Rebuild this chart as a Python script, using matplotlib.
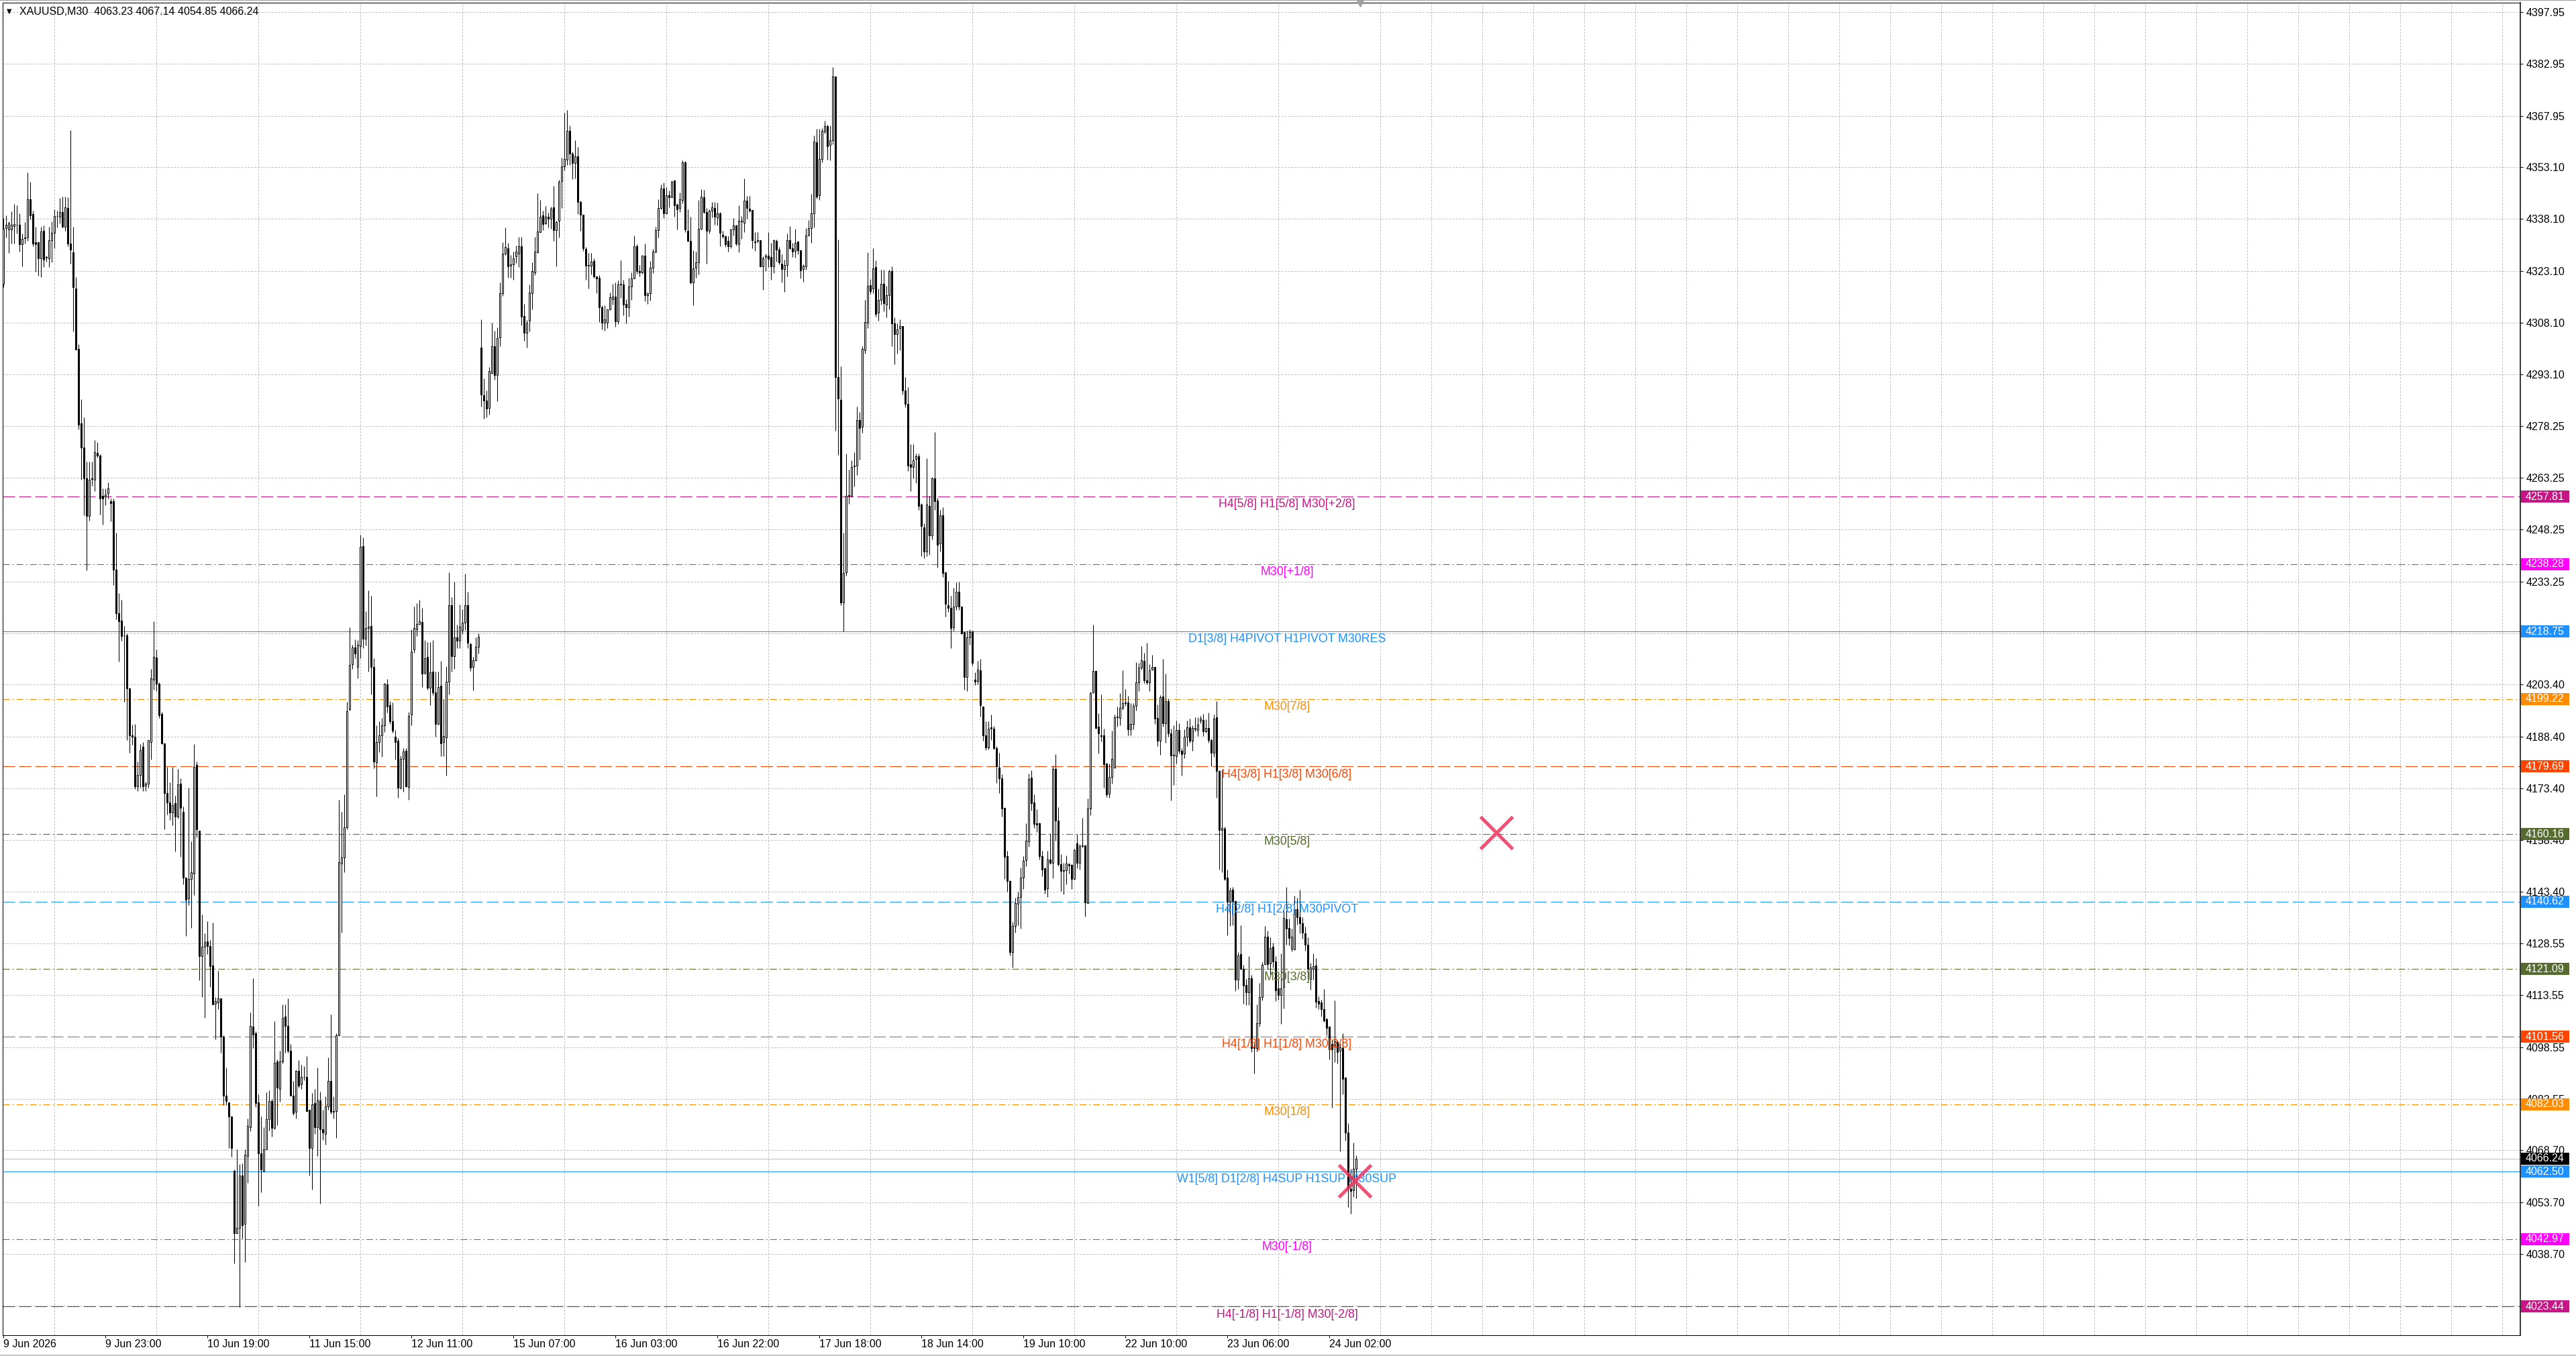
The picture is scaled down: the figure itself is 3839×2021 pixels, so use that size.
import matplotlib
matplotlib.use("Agg")
import matplotlib.pyplot as plt
from matplotlib.patches import Rectangle
from matplotlib.transforms import blended_transform_factory
import numpy as np

plt.rcParams['font.family'] = ['Liberation Sans', 'DejaVu Sans']
plt.rcParams['lines.scale_dashes'] = False

symbol = "XAUUSD,M30"

# M30 candles, oldest first
opens = [
    4319.4, 4335.4, 4335.0, 4335.0, 4336.0, 4336.4, 4336.4, 4330.7, 4332.5, 4332.7,
    4343.8, 4339.6, 4331.3, 4331.3, 4326.8, 4334.7, 4326.9, 4326.8, 4332.0, 4334.1,
    4339.0, 4338.8, 4340.1, 4335.9, 4341.3, 4331.0, 4328.5, 4318.0, 4300.6, 4278.9,
    4272.0, 4263.0, 4252.1, 4262.9, 4262.7, 4270.4, 4269.7, 4258.1, 4257.8, 4258.7,
    4256.4, 4256.4, 4236.7, 4224.0, 4221.9, 4217.6, 4217.6, 4202.3, 4188.7, 4188.3,
    4173.9, 4177.3, 4185.5, 4174.1, 4174.8, 4186.8, 4204.8, 4211.2, 4203.7, 4195.0,
    4186.4, 4172.0, 4169.3, 4166.3, 4169.1, 4165.3, 4174.8, 4166.5, 4147.6, 4141.6,
    4147.2, 4148.8, 4180.2, 4161.2, 4124.8, 4127.5, 4129.2, 4127.7, 4122.2, 4111.1,
    4111.5, 4112.7, 4101.6, 4084.5, 4082.6, 4078.5, 4062.7, 4044.6, 4046.2, 4061.4,
    4047.5, 4067.1, 4075.4, 4104.5, 4102.5, 4082.6, 4067.8, 4062.7, 4069.0, 4077.7,
    4083.0, 4075.1, 4094.4, 4086.5, 4094.4, 4107.4, 4104.7, 4097.5, 4084.5, 4079.8,
    4091.6, 4087.8, 4089.9, 4089.9, 4080.4, 4069.3, 4082.3, 4075.4, 4083.2, 4074.7,
    4073.5, 4081.3, 4088.7, 4080.1, 4080.1, 4102.0, 4151.7, 4153.3, 4162.1, 4196.3,
    4209.3, 4214.1, 4208.6, 4214.5, 4243.5, 4216.6, 4219.8, 4220.4, 4208.6, 4181.0,
    4186.7, 4188.8, 4191.7, 4203.5, 4197.4, 4192.8, 4188.3, 4187.1, 4173.5, 4182.0,
    4184.3, 4173.7, 4194.8, 4213.6, 4219.4, 4220.9, 4221.6, 4206.7, 4211.5, 4202.4,
    4207.1, 4201.2, 4192.1, 4203.0, 4186.8, 4188.2, 4204.3, 4226.3, 4211.6, 4217.1,
    4216.1, 4219.1, 4221.3, 4226.3, 4215.2, 4208.6, 4210.5, 4214.4, 4300.9, 4287.1,
    4285.5, 4283.4, 4293.5, 4301.3, 4293.0, 4303.9, 4316.7, 4328.0, 4329.7, 4324.5,
    4324.9, 4327.3, 4328.1, 4330.2, 4310.1, 4305.2, 4308.6, 4316.7, 4322.6, 4328.5,
    4334.2, 4339.2, 4336.9, 4338.7, 4338.2, 4341.4, 4334.9, 4337.5, 4349.0, 4353.3,
    4355.2, 4363.6, 4356.9, 4354.2, 4356.3, 4343.1, 4339.4, 4329.4, 4324.6, 4324.6,
    4325.9, 4321.4, 4321.0, 4312.6, 4308.1, 4308.1, 4311.9, 4314.8, 4315.7, 4308.4,
    4319.3, 4319.1, 4313.6, 4312.5, 4318.5, 4320.9, 4330.3, 4323.1, 4322.6, 4327.4,
    4316.1, 4316.6, 4324.0, 4328.7, 4334.9, 4341.2, 4346.9, 4339.8, 4345.0, 4344.4,
    4349.2, 4342.2, 4341.2, 4343.6, 4354.5, 4334.6, 4331.8, 4319.8, 4324.0, 4325.6,
    4335.3, 4344.3, 4340.1, 4334.6, 4340.4, 4341.3, 4338.6, 4339.7, 4333.6, 4333.1,
    4331.7, 4330.2, 4335.1, 4336.2, 4330.8, 4337.6, 4337.0, 4343.4, 4341.0, 4340.7,
    4331.6, 4331.7, 4332.0, 4324.3, 4327.1, 4327.4, 4327.1, 4324.3, 4331.8, 4329.2,
    4325.2, 4323.7, 4324.7, 4332.0, 4329.7, 4328.8, 4331.5, 4329.0, 4323.7, 4324.4,
    4333.4, 4335.5, 4339.8, 4360.3, 4344.9, 4355.4, 4363.4, 4365.0, 4359.5, 4360.9,
    4379.3, 4292.4, 4285.7, 4227.1, 4235.9, 4258.1, 4258.1, 4266.6, 4266.8, 4279.9,
    4277.9, 4300.2, 4308.0, 4319.0, 4318.0, 4324.1, 4310.9, 4314.7, 4319.4, 4313.3,
    4316.0, 4323.0, 4307.9, 4304.8, 4306.6, 4307.2, 4288.4, 4284.6, 4267.1, 4266.4,
    4268.7, 4269.5, 4255.4, 4248.9, 4241.9, 4255.0, 4246.6, 4263.1, 4256.7, 4244.2,
    4252.4, 4235.9, 4226.4, 4225.5, 4220.0, 4226.0, 4230.2, 4226.0, 4218.6, 4205.6,
    4217.0, 4218.8, 4204.9, 4204.5, 4207.6, 4197.1, 4188.7, 4185.3, 4191.0, 4190.7,
    4185.0, 4179.4, 4176.3, 4167.8, 4153.7, 4146.6, 4126.0, 4133.5, 4139.9, 4142.0,
    4147.6, 4152.6, 4158.1, 4176.5, 4169.3, 4163.3, 4163.3, 4153.7, 4150.2, 4144.4,
    4152.8, 4151.8, 4179.1, 4164.0, 4151.4, 4149.6, 4149.6, 4151.4, 4151.2, 4147.1,
    4157.5, 4151.9, 4156.8, 4156.8, 4140.2, 4167.6, 4201.1, 4207.4, 4191.2, 4188.7,
    4188.7, 4180.5, 4171.8, 4176.6, 4179.4, 4194.0, 4193.8, 4196.7, 4198.2, 4198.2,
    4190.4, 4192.0, 4197.2, 4204.1, 4208.3, 4210.3, 4204.7, 4204.1, 4207.8, 4208.5,
    4193.8, 4187.1, 4200.0, 4192.2, 4198.7, 4189.3, 4183.0, 4182.7, 4190.2, 4184.3,
    4183.5, 4188.3, 4191.1, 4187.2, 4190.4, 4190.2, 4193.0, 4193.2, 4189.9, 4190.9,
    4187.3, 4183.7, 4194.0, 4178.4, 4161.3, 4161.7, 4147.5, 4140.5, 4144.1, 4140.8,
    4118.0, 4125.4, 4121.1, 4116.5, 4114.4, 4118.5, 4098.2, 4098.3, 4105.4, 4113.0,
    4122.5, 4130.5, 4122.8, 4127.5, 4123.3, 4115.5, 4113.6, 4115.9, 4135.5, 4133.1,
    4127.0, 4126.8, 4138.5, 4136.2, 4134.4, 4131.5, 4128.2, 4118.3, 4121.1, 4122.2,
    4111.9, 4111.4, 4109.5, 4106.6, 4104.5, 4099.4, 4099.0, 4100.0, 4097.5, 4098.3,
    4089.8, 4073.9, 4057.5, 4057.1, 4063.23,
]
highs = [
    4338.3, 4339.1, 4337.4, 4340.3, 4342.5, 4342.0, 4339.7, 4333.9, 4337.1, 4351.5,
    4348.9, 4340.5, 4335.9, 4331.3, 4335.9, 4336.2, 4327.5, 4335.9, 4337.4, 4340.8,
    4340.5, 4344.1, 4344.5, 4344.5, 4344.3, 4363.7, 4335.9, 4321.2, 4301.8, 4285.9,
    4280.7, 4268.0, 4268.0, 4267.9, 4274.1, 4273.5, 4270.0, 4260.2, 4260.2, 4261.9,
    4257.2, 4257.2, 4247.4, 4229.8, 4228.0, 4220.3, 4218.2, 4202.5, 4191.9, 4192.1,
    4181.1, 4186.2, 4186.8, 4175.4, 4187.4, 4208.0, 4221.7, 4213.6, 4204.0, 4195.5,
    4186.4, 4179.5, 4175.2, 4179.5, 4171.2, 4179.0, 4176.3, 4168.1, 4147.6, 4173.5,
    4158.1, 4186.2, 4181.2, 4161.2, 4136.8, 4131.5, 4134.9, 4129.6, 4134.6, 4113.1,
    4120.6, 4112.7, 4102.0, 4092.7, 4082.6, 4078.5, 4063.1, 4069.0, 4064.6, 4064.9,
    4069.0, 4077.9, 4108.5, 4118.4, 4103.2, 4084.9, 4078.5, 4075.4, 4085.5, 4086.1,
    4083.6, 4106.1, 4095.0, 4097.5, 4110.8, 4110.8, 4112.7, 4099.4, 4088.7, 4091.8,
    4094.7, 4093.5, 4093.1, 4095.9, 4080.4, 4085.2, 4086.4, 4092.7, 4085.7, 4080.4,
    4084.2, 4095.6, 4107.9, 4084.2, 4102.6, 4170.1, 4166.5, 4171.6, 4198.5, 4220.0,
    4214.9, 4216.5, 4216.2, 4246.7, 4245.9, 4224.6, 4230.6, 4229.1, 4211.1, 4191.7,
    4192.8, 4193.8, 4203.8, 4205.0, 4198.7, 4198.3, 4190.2, 4188.0, 4182.8, 4185.1,
    4185.1, 4195.6, 4219.4, 4226.0, 4227.0, 4228.0, 4225.6, 4216.3, 4215.6, 4215.6,
    4216.3, 4207.1, 4207.1, 4210.2, 4199.2, 4208.7, 4235.9, 4228.6, 4233.1, 4220.7,
    4226.5, 4225.2, 4235.4, 4230.3, 4215.5, 4211.5, 4217.1, 4218.2, 4309.1, 4291.9,
    4288.5, 4295.2, 4308.0, 4305.8, 4306.8, 4319.7, 4331.3, 4335.6, 4331.1, 4327.7,
    4328.7, 4330.4, 4332.9, 4332.9, 4313.6, 4308.9, 4319.1, 4325.6, 4332.9, 4345.6,
    4343.6, 4340.4, 4341.9, 4340.0, 4341.7, 4347.6, 4337.5, 4349.5, 4355.9, 4368.8,
    4369.6, 4365.1, 4357.6, 4360.8, 4358.9, 4343.4, 4339.4, 4330.1, 4328.2, 4328.2,
    4326.8, 4321.4, 4321.9, 4313.1, 4313.2, 4311.9, 4316.8, 4319.3, 4319.7, 4320.4,
    4326.1, 4320.6, 4314.8, 4321.1, 4322.7, 4333.4, 4330.8, 4324.7, 4327.7, 4331.0,
    4316.9, 4325.9, 4329.4, 4335.8, 4343.8, 4348.1, 4348.6, 4347.2, 4346.4, 4349.3,
    4349.5, 4342.6, 4345.7, 4355.1, 4354.9, 4340.8, 4338.8, 4329.0, 4328.7, 4343.6,
    4346.7, 4346.5, 4341.2, 4340.8, 4343.1, 4343.1, 4342.9, 4340.1, 4334.6, 4333.3,
    4333.2, 4335.3, 4338.4, 4336.5, 4342.1, 4338.9, 4349.9, 4344.7, 4344.7, 4340.7,
    4334.2, 4334.2, 4332.0, 4327.3, 4328.0, 4334.2, 4331.1, 4332.2, 4332.2, 4330.1,
    4327.9, 4326.3, 4333.9, 4336.0, 4331.1, 4335.3, 4331.8, 4329.0, 4324.9, 4335.5,
    4337.7, 4345.3, 4362.3, 4364.1, 4364.2, 4364.4, 4366.6, 4365.4, 4365.2, 4382.0,
    4379.3, 4332.2, 4295.5, 4247.3, 4270.2, 4265.5, 4268.2, 4270.6, 4283.9, 4282.3,
    4301.2, 4314.7, 4328.4, 4320.7, 4329.7, 4326.1, 4318.0, 4323.4, 4323.4, 4318.7,
    4323.4, 4324.4, 4309.7, 4307.9, 4309.0, 4307.2, 4292.4, 4289.5, 4272.9, 4272.9,
    4270.2, 4270.2, 4255.8, 4250.0, 4268.9, 4258.1, 4263.5, 4276.5, 4257.4, 4254.0,
    4254.7, 4235.9, 4233.4, 4229.1, 4231.5, 4232.9, 4233.2, 4226.0, 4218.6, 4219.0,
    4219.4, 4219.0, 4206.9, 4210.3, 4210.9, 4197.1, 4192.8, 4192.8, 4194.8, 4191.4,
    4185.7, 4183.7, 4177.5, 4167.8, 4155.4, 4146.7, 4134.7, 4141.8, 4143.4, 4150.4,
    4153.7, 4163.3, 4177.7, 4178.7, 4171.6, 4167.4, 4163.4, 4155.4, 4150.5, 4155.4,
    4160.3, 4180.0, 4183.2, 4167.9, 4154.4, 4151.9, 4154.0, 4151.9, 4151.4, 4155.9,
    4160.1, 4157.2, 4164.8, 4156.9, 4170.5, 4201.4, 4220.8, 4207.6, 4195.1, 4200.6,
    4190.6, 4180.8, 4180.5, 4190.0, 4194.7, 4197.0, 4201.0, 4207.6, 4202.2, 4200.1,
    4198.1, 4198.1, 4209.9, 4209.7, 4214.6, 4212.5, 4215.5, 4209.2, 4212.0, 4208.5,
    4197.7, 4200.3, 4210.9, 4206.6, 4199.3, 4190.6, 4191.6, 4193.0, 4192.3, 4185.1,
    4190.4, 4193.0, 4193.5, 4191.6, 4194.0, 4193.9, 4194.4, 4194.9, 4193.3, 4195.4,
    4187.8, 4194.7, 4198.6, 4178.7, 4178.8, 4162.4, 4149.8, 4144.7, 4144.9, 4140.9,
    4126.1, 4133.7, 4122.3, 4118.3, 4124.9, 4119.4, 4099.6, 4110.9, 4117.1, 4123.1,
    4133.5, 4132.3, 4130.3, 4128.8, 4124.9, 4118.0, 4125.7, 4138.1, 4144.9, 4135.8,
    4132.8, 4142.4, 4141.8, 4144.0, 4136.2, 4133.3, 4130.3, 4122.9, 4125.7, 4124.3,
    4113.2, 4112.2, 4115.3, 4107.0, 4104.5, 4100.5, 4112.0, 4100.4, 4099.6, 4102.5,
    4089.8, 4076.6, 4063.4, 4070.9, 4067.14,
]
lows = [
    4318.3, 4332.7, 4328.3, 4331.0, 4331.0, 4333.9, 4328.7, 4324.3, 4331.0, 4331.8,
    4337.9, 4330.2, 4322.9, 4321.7, 4321.2, 4324.1, 4325.8, 4324.1, 4325.6, 4329.6,
    4335.6, 4336.8, 4335.6, 4334.7, 4330.2, 4325.2, 4305.5, 4300.3, 4277.2, 4262.7,
    4252.3, 4236.4, 4250.8, 4261.0, 4259.3, 4269.1, 4252.6, 4249.7, 4255.2, 4257.2,
    4250.6, 4232.1, 4222.2, 4210.1, 4216.1, 4198.5, 4187.4, 4183.6, 4186.0, 4173.1,
    4172.6, 4173.5, 4172.6, 4172.6, 4173.5, 4181.7, 4202.0, 4201.5, 4193.8, 4186.2,
    4161.5, 4165.9, 4164.3, 4162.7, 4155.2, 4164.6, 4153.6, 4145.6, 4130.7, 4139.6,
    4133.0, 4142.5, 4159.2, 4117.8, 4113.1, 4107.0, 4125.4, 4115.9, 4110.8, 4100.7,
    4109.6, 4096.9, 4081.7, 4081.7, 4069.3, 4066.8, 4035.9, 4044.6, 4023.4, 4043.1,
    4036.4, 4059.2, 4074.1, 4098.2, 4081.1, 4052.6, 4056.6, 4062.3, 4069.0, 4074.4,
    4072.6, 4074.7, 4076.0, 4082.7, 4093.7, 4096.9, 4096.9, 4084.5, 4078.8, 4077.9,
    4086.8, 4086.5, 4089.0, 4079.8, 4061.4, 4057.4, 4073.5, 4067.1, 4053.2, 4071.6,
    4070.3, 4080.4, 4079.2, 4077.9, 4072.2, 4101.8, 4131.7, 4149.1, 4161.5, 4195.8,
    4207.9, 4211.0, 4205.3, 4211.1, 4214.0, 4214.8, 4207.1, 4200.6, 4179.2, 4171.1,
    4183.9, 4182.5, 4189.7, 4195.4, 4192.0, 4189.5, 4181.7, 4170.7, 4173.1, 4172.4,
    4173.7, 4170.0, 4191.7, 4212.6, 4217.4, 4220.7, 4202.7, 4206.4, 4202.0, 4197.5,
    4200.3, 4188.3, 4191.9, 4182.6, 4182.6, 4177.1, 4200.6, 4207.2, 4207.9, 4213.9,
    4213.9, 4218.0, 4219.1, 4213.9, 4207.4, 4201.7, 4210.3, 4212.4, 4283.8, 4280.3,
    4280.8, 4281.5, 4293.3, 4291.6, 4285.3, 4301.3, 4315.9, 4327.7, 4321.1, 4321.1,
    4320.6, 4325.4, 4324.2, 4307.4, 4302.9, 4300.9, 4305.5, 4312.0, 4321.8, 4328.3,
    4334.2, 4334.9, 4336.7, 4335.6, 4335.3, 4331.8, 4324.3, 4332.7, 4341.2, 4352.1,
    4353.7, 4353.7, 4349.6, 4349.9, 4339.5, 4334.6, 4328.9, 4320.5, 4317.9, 4322.0,
    4321.1, 4316.6, 4308.2, 4306.2, 4305.8, 4306.6, 4311.8, 4313.3, 4307.0, 4307.7,
    4315.2, 4310.2, 4307.9, 4309.8, 4314.6, 4320.9, 4322.2, 4321.4, 4322.2, 4314.3,
    4313.6, 4314.5, 4322.5, 4328.3, 4332.7, 4340.8, 4338.3, 4339.6, 4341.5, 4344.3,
    4338.8, 4335.1, 4340.1, 4342.6, 4334.2, 4331.5, 4319.3, 4313.2, 4321.1, 4322.1,
    4335.0, 4339.8, 4325.2, 4333.9, 4338.6, 4336.5, 4336.3, 4330.3, 4332.5, 4330.1,
    4328.7, 4329.7, 4333.4, 4330.4, 4328.5, 4332.3, 4334.2, 4338.1, 4340.1, 4329.7,
    4328.9, 4331.1, 4324.2, 4317.6, 4323.1, 4324.2, 4320.5, 4322.5, 4325.7, 4324.9,
    4319.7, 4317.1, 4321.4, 4329.4, 4327.1, 4327.0, 4327.8, 4320.9, 4319.9, 4323.4,
    4333.4, 4331.1, 4335.6, 4344.0, 4343.6, 4354.4, 4362.8, 4355.2, 4355.1, 4359.8,
    4276.9, 4269.9, 4226.4, 4218.8, 4234.9, 4255.7, 4258.1, 4260.8, 4264.1, 4268.5,
    4276.3, 4299.2, 4306.6, 4316.4, 4316.7, 4309.9, 4308.6, 4313.3, 4311.3, 4309.7,
    4311.9, 4301.2, 4296.1, 4299.2, 4300.2, 4287.3, 4283.7, 4265.2, 4259.4, 4263.1,
    4261.7, 4254.0, 4240.6, 4239.9, 4240.6, 4241.0, 4245.3, 4254.0, 4237.2, 4241.9,
    4234.5, 4223.1, 4224.4, 4214.0, 4219.0, 4225.1, 4225.1, 4218.1, 4201.9, 4201.5,
    4215.0, 4208.9, 4203.3, 4203.5, 4194.1, 4187.1, 4184.4, 4184.7, 4187.4, 4184.6,
    4174.9, 4172.1, 4165.2, 4147.2, 4143.4, 4125.0, 4121.6, 4131.7, 4133.8, 4132.8,
    4144.3, 4150.9, 4156.5, 4167.0, 4162.0, 4160.8, 4152.8, 4147.9, 4142.9, 4142.0,
    4151.4, 4147.4, 4158.2, 4150.9, 4143.6, 4142.7, 4145.7, 4148.8, 4144.3, 4146.9,
    4150.2, 4149.8, 4156.3, 4136.4, 4140.1, 4165.6, 4201.0, 4190.7, 4183.5, 4187.0,
    4173.5, 4170.9, 4170.7, 4174.7, 4179.2, 4191.2, 4191.6, 4196.0, 4197.2, 4188.8,
    4188.8, 4190.4, 4195.8, 4201.6, 4207.8, 4203.8, 4203.4, 4201.6, 4207.5, 4192.0,
    4185.6, 4183.0, 4191.3, 4186.5, 4188.3, 4169.8, 4174.4, 4180.5, 4183.5, 4177.1,
    4182.2, 4185.7, 4186.5, 4184.3, 4189.9, 4188.5, 4192.2, 4188.5, 4189.5, 4186.6,
    4179.8, 4182.5, 4170.7, 4149.8, 4149.1, 4146.7, 4130.9, 4133.5, 4133.7, 4114.8,
    4115.3, 4121.0, 4111.0, 4110.7, 4110.6, 4097.0, 4090.8, 4097.2, 4104.4, 4112.0,
    4122.5, 4121.0, 4119.6, 4121.5, 4111.9, 4112.2, 4105.2, 4109.8, 4128.2, 4128.0,
    4126.2, 4126.6, 4134.0, 4131.5, 4129.9, 4126.5, 4118.3, 4115.2, 4118.0, 4110.0,
    4109.5, 4107.4, 4105.8, 4102.0, 4094.9, 4080.9, 4094.1, 4093.8, 4068.4, 4084.8,
    4071.5, 4052.2, 4050.4, 4055.2, 4054.85,
]
closes = [
    4335.3, 4336.4, 4336.9, 4336.4, 4336.7, 4336.4, 4330.7, 4332.3, 4332.7, 4343.8,
    4339.1, 4330.9, 4330.7, 4326.8, 4334.4, 4326.3, 4327.1, 4332.0, 4334.1, 4339.0,
    4339.0, 4340.1, 4335.9, 4341.5, 4331.0, 4329.2, 4318.3, 4300.3, 4278.6, 4272.0,
    4263.0, 4252.1, 4262.7, 4263.0, 4270.6, 4269.7, 4257.2, 4257.2, 4258.3, 4260.2,
    4255.8, 4236.7, 4224.0, 4221.7, 4217.4, 4217.6, 4202.3, 4188.7, 4188.3, 4173.9,
    4177.3, 4184.5, 4173.9, 4174.8, 4187.4, 4205.2, 4211.5, 4203.7, 4194.5, 4186.4,
    4172.0, 4169.3, 4166.3, 4168.5, 4165.3, 4174.5, 4167.8, 4147.6, 4141.2, 4147.2,
    4149.2, 4179.5, 4161.5, 4124.8, 4127.5, 4128.9, 4127.7, 4122.0, 4110.8, 4111.8,
    4112.7, 4101.6, 4084.5, 4083.0, 4078.5, 4069.3, 4044.6, 4046.2, 4061.4, 4047.1,
    4067.4, 4075.7, 4104.7, 4102.2, 4082.3, 4067.8, 4063.1, 4069.0, 4077.7, 4083.0,
    4075.1, 4094.0, 4086.8, 4094.4, 4107.0, 4104.7, 4097.5, 4084.5, 4079.4, 4091.6,
    4087.4, 4089.9, 4089.9, 4080.1, 4069.3, 4081.9, 4075.4, 4083.2, 4074.7, 4073.9,
    4081.3, 4088.7, 4079.8, 4079.8, 4102.0, 4152.0, 4153.3, 4162.1, 4195.7, 4209.0,
    4214.1, 4212.3, 4215.0, 4243.3, 4216.6, 4219.8, 4220.2, 4208.5, 4181.2, 4186.7,
    4188.8, 4191.7, 4203.7, 4197.0, 4192.8, 4190.1, 4186.8, 4173.5, 4182.0, 4184.1,
    4174.0, 4194.3, 4213.0, 4219.7, 4221.0, 4221.8, 4206.6, 4211.1, 4202.4, 4206.9,
    4201.1, 4192.1, 4202.7, 4186.4, 4188.6, 4204.2, 4226.3, 4211.6, 4217.1, 4216.1,
    4220.2, 4221.3, 4226.3, 4215.5, 4208.4, 4210.5, 4214.3, 4217.2, 4287.4, 4285.5,
    4283.3, 4294.2, 4301.2, 4293.0, 4303.7, 4316.7, 4328.0, 4330.1, 4324.3, 4324.9,
    4326.8, 4328.6, 4330.2, 4309.8, 4305.2, 4308.0, 4316.9, 4323.1, 4328.6, 4334.4,
    4338.8, 4336.7, 4338.7, 4338.1, 4341.0, 4334.9, 4337.2, 4348.8, 4353.3, 4355.4,
    4363.6, 4356.9, 4354.2, 4356.3, 4343.1, 4339.4, 4329.6, 4324.6, 4324.7, 4325.8,
    4321.4, 4320.9, 4312.6, 4308.1, 4309.0, 4311.9, 4315.4, 4315.7, 4308.4, 4319.1,
    4319.2, 4313.4, 4312.5, 4318.5, 4320.9, 4330.3, 4323.1, 4322.6, 4327.4, 4316.1,
    4316.6, 4324.0, 4328.7, 4334.9, 4341.2, 4346.9, 4339.8, 4345.0, 4344.3, 4348.8,
    4342.0, 4340.8, 4343.8, 4354.5, 4335.1, 4331.8, 4319.8, 4323.8, 4325.6, 4335.3,
    4344.6, 4340.1, 4334.6, 4340.4, 4341.5, 4338.8, 4339.7, 4334.0, 4333.1, 4330.8,
    4330.2, 4335.1, 4336.2, 4330.9, 4337.6, 4337.4, 4343.4, 4341.2, 4340.5, 4332.0,
    4331.3, 4332.0, 4324.3, 4326.8, 4327.4, 4326.6, 4324.3, 4332.0, 4329.2, 4325.6,
    4323.7, 4324.7, 4332.0, 4329.7, 4328.7, 4331.1, 4329.0, 4323.3, 4324.5, 4333.4,
    4335.5, 4339.8, 4360.4, 4344.5, 4355.4, 4363.6, 4365.0, 4359.2, 4360.9, 4379.3,
    4292.4, 4286.1, 4227.1, 4235.6, 4258.1, 4258.2, 4266.4, 4266.8, 4279.9, 4277.6,
    4300.5, 4308.3, 4318.7, 4317.3, 4323.8, 4310.6, 4314.7, 4319.4, 4313.7, 4316.0,
    4323.0, 4307.9, 4304.8, 4306.2, 4307.2, 4288.4, 4284.6, 4266.8, 4266.4, 4268.2,
    4269.5, 4255.1, 4249.3, 4241.9, 4255.4, 4246.6, 4263.1, 4256.5, 4243.9, 4252.3,
    4235.6, 4226.7, 4225.5, 4219.7, 4226.0, 4230.2, 4226.0, 4218.3, 4205.6, 4217.0,
    4218.6, 4209.6, 4204.2, 4207.8, 4197.5, 4188.7, 4185.3, 4190.7, 4190.6, 4185.0,
    4179.8, 4176.3, 4167.6, 4153.5, 4146.6, 4126.0, 4133.5, 4140.1, 4142.0, 4147.6,
    4152.4, 4158.2, 4176.1, 4169.1, 4163.1, 4162.9, 4153.7, 4149.8, 4144.1, 4152.8,
    4151.8, 4179.1, 4164.0, 4151.4, 4149.5, 4149.5, 4151.6, 4151.1, 4147.1, 4155.6,
    4151.9, 4156.7, 4156.6, 4140.4, 4167.5, 4201.0, 4207.4, 4190.9, 4189.3, 4188.5,
    4180.3, 4171.6, 4176.6, 4181.9, 4194.0, 4194.2, 4196.7, 4198.0, 4198.0, 4190.4,
    4192.0, 4197.2, 4204.1, 4208.3, 4210.4, 4204.6, 4204.1, 4207.6, 4208.5, 4193.5,
    4187.2, 4199.8, 4192.2, 4198.6, 4189.3, 4182.9, 4182.9, 4190.2, 4184.2, 4183.3,
    4188.3, 4191.1, 4187.2, 4190.8, 4190.9, 4191.8, 4193.5, 4189.9, 4190.9, 4187.3,
    4183.7, 4193.5, 4178.4, 4161.3, 4161.9, 4147.1, 4140.5, 4143.8, 4140.8, 4118.0,
    4125.0, 4121.1, 4116.3, 4114.4, 4118.5, 4098.2, 4098.4, 4105.4, 4113.0, 4122.4,
    4130.5, 4122.6, 4127.2, 4123.3, 4115.0, 4113.6, 4115.5, 4136.0, 4132.8, 4130.1,
    4130.5, 4138.5, 4136.2, 4134.4, 4131.7, 4128.2, 4121.1, 4121.5, 4121.9, 4111.6,
    4111.0, 4109.5, 4106.2, 4104.0, 4097.9, 4097.9, 4100.2, 4097.0, 4098.4, 4089.3,
    4073.9, 4057.5, 4056.9, 4063.4, 4066.24,
]

time_labels = ['9 Jun 2026', '9 Jun 23:00', '10 Jun 19:00', '11 Jun 15:00',
               '12 Jun 11:00', '15 Jun 07:00', '16 Jun 03:00', '16 Jun 22:00',
               '17 Jun 18:00', '18 Jun 14:00', '19 Jun 10:00', '22 Jun 10:00',
               '23 Jun 06:00', '24 Jun 02:00']
bars_per_label = 38
bars_per_grid = 19

price_ticks = [4397.95, 4382.95, 4367.95, 4353.10, 4338.10, 4323.10, 4308.10,
               4293.10, 4278.25, 4263.25, 4248.25, 4233.25, 4218.25, 4203.40,
               4188.40, 4173.40, 4158.40, 4143.40, 4128.55, 4113.55, 4098.55,
               4083.55, 4068.70, 4053.70, 4038.70, 4023.70]

# Murrey-style levels drawn by the indicator
level_prices = [4257.81, 4238.28, 4218.75, 4199.22, 4179.69, 4160.16, 4140.62,
                4121.09, 4101.56, 4082.03, 4062.50, 4042.97, 4023.44]
level_names = ['H4[5/8] H1[5/8] M30[+2/8]', 'M30[+1/8]',
               'D1[3/8] H4PIVOT H1PIVOT M30RES', 'M30[7/8]',
               'H4[3/8] H1[3/8] M30[6/8]', 'M30[5/8]',
               'H4[2/8] H1[2/8] M30PIVOT', 'M30[3/8]',
               'H4[1/8] H1[1/8] M30[2/8]', 'M30[1/8]',
               'W1[5/8] D1[2/8] H4SUP H1SUP M30SUP', 'M30[-1/8]',
               'H4[-1/8] H1[-1/8] M30[-2/8]']
level_colors = ['#C71585', '#FF00FF', '#1E90FF', '#FF8C00', '#FF4500', '#556B2F',
                '#1E90FF', '#556B2F', '#FF4500', '#FF8C00', '#1E90FF', '#FF00FF',
                '#C71585']
level_kinds = ['dash', 'dashdot', 'solid', 'dashdot', 'dash', 'dashdot', 'dash',
               'dashdot', 'dash', 'dashdot', 'solid', 'dashdot', 'dash']

cross_bars = [503.5, 556.25]
cross_prices = [4059.9, 4160.5]

# ---- figure geometry (pixels of the original screenshot)
W, H = 3839, 2021
AX_L, AX_R, AX_T, AX_B = 4, 3756, 4, 1990
AX_W = AX_R - AX_L
PX_PER_PRICE = 5.152
LABEL_BAR = 478.25
SHIFT_BAR = 505.5

fig = plt.figure(figsize=(W / 100, H / 100), dpi=100)
ax = fig.add_axes([AX_L / W, (H - AX_B) / H, AX_W / W, (AX_B - AX_T) / H])
ax.set_xlim(-0.25, -0.25 + AX_W / 4)
ymax = 4397.95 + (18 - AX_T) / PX_PER_PRICE
ymin = 4397.95 - (AX_B - 18) / PX_PER_PRICE
ax.set_ylim(ymin, ymax)

o = np.array(opens)
h = np.array(highs)
l = np.array(lows)
c = np.array(closes)
x = np.arange(len(o))
up = c >= o

# candles
ax.vlines(x, l, h, colors='black', linewidth=0.75, zorder=3)
ax.bar(x, np.abs(c - o), width=0.5, bottom=np.minimum(o, c),
       color=np.where(up, 'white', 'black'), edgecolor='black',
       linewidth=0.75, zorder=4)

# bid line
ax.axhline(c[-1], color='#C0C0C0', lw=0.75, zorder=2)

# dash patterns in points (1 px = 0.72 pt)
styles = {'solid': '-', 'dash': (0, (13, 4.3)), 'dashdot': (0, (7.2, 2.9, 1.44, 2.9))}
for p, name, col, kind in zip(level_prices, level_names, level_colors, level_kinds):
    ax.axhline(p, color=col, lw=0.75, linestyle=styles[kind], zorder=2)
    ax.annotate(name, (LABEL_BAR, p), xytext=(0, -8.4), textcoords='offset points',
                ha='center', va='center', color=col, fontsize=12.8, zorder=5)

# price tags on the right scale
trans = blended_transform_factory(ax.transAxes, ax.transData)
box_w = 72 / AX_W
box_h = 18 / PX_PER_PRICE
tag_prices = level_prices + [c[-1]]
tag_colors = level_colors + ['black']
for p, col in zip(tag_prices, tag_colors):
    ax.add_patch(Rectangle((1 + 1 / AX_W, p - box_h / 2), box_w, box_h,
                           transform=trans, facecolor=col, edgecolor='none',
                           clip_on=False, zorder=10))
    ax.text(1 + 8 / AX_W, p, f'{p:.2f}', transform=trans, color='white',
            fontsize=11.5, ha='left', va='center', clip_on=False, zorder=11)

# order markers
ax.scatter(cross_bars, cross_prices, marker='x', s=1200, linewidths=3.6,
           color='#E8365D', alpha=0.85, zorder=7)

# chart shift marker
ax.plot([SHIFT_BAR], [ymax], marker='v', ms=8, color='#A0A0A0',
        clip_on=False, zorder=12)

# axes, ticks, grid
ax.yaxis.tick_right()
ax.set_yticks(price_ticks)
ax.set_yticklabels([f'{v:.2f}' for v in price_ticks])
ax.tick_params(axis='y', length=3, width=0.75, pad=3, labelsize=11.5)

ax.set_xticks(np.arange(len(time_labels)) * bars_per_label)
ax.set_xticklabels(time_labels, ha='left')
ax.tick_params(axis='x', length=3, width=0.75, pad=1.5, labelsize=11.5)
ax.set_xticks(np.arange(0, AX_W / 4, bars_per_grid), minor=True)
ax.tick_params(axis='x', which='minor', length=0)

grid_style = dict(color='#C0C0C0', lw=0.75, linestyle=(0, (2.16, 1.44)))
ax.grid(True, axis='y', which='major', **grid_style)
ax.grid(True, axis='x', which='minor', **grid_style)
ax.grid(False, axis='x', which='major')

for side in ['left', 'top', 'bottom']:
    ax.spines[side].set_linewidth(0.75)
ax.spines['right'].set_linewidth(1.1)

# header
fig.text(10 / W, 1 - 17 / H, '\u25BC', fontsize=7, family='DejaVu Sans',
         va='center', ha='left')
fig.text(29 / W, 1 - 17 / H,
         f'{symbol}  {o[-1]:.2f} {h[-1]:.2f} {l[-1]:.2f} {c[-1]:.2f}',
         fontsize=11.5, va='center', ha='left')
fig.add_artist(plt.Line2D([0, 1], [1, 1], transform=fig.transFigure,
                          color='#A0A0A0', lw=1.5))
fig.add_artist(plt.Line2D([0, 1], [0, 0], transform=fig.transFigure,
                          color='#C8C8C8', lw=3))

fig.savefig('out.png', dpi=100)
